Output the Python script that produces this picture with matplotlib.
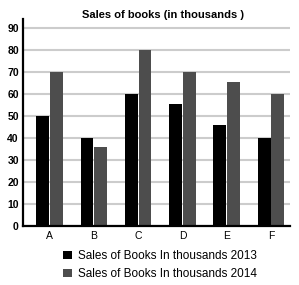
import matplotlib
matplotlib.use("Agg")
import matplotlib.pyplot as plt
import numpy as np

plt.rcParams['font.family'] = ['Liberation Sans', 'DejaVu Sans']

categories = ["A", "B", "C", "D", "E", "F"]
sales_2013 = [50, 40, 60, 55.5, 46, 40]
sales_2014 = [70, 36, 80, 70, 65.5, 60]
yticks = [0, 10, 20, 30, 40, 50, 60, 70, 80, 90]

fig = plt.figure(figsize=(2.99, 2.85), dpi=100)
ax = fig.add_axes([0.077, 0.208, 0.893, 0.725])

x = np.arange(len(categories))
w = 0.29
b1 = ax.bar(x - 0.155, sales_2013, w, color="#000000", zorder=3,
            label="Sales of Books In thousands 2013")
b2 = ax.bar(x + 0.155, sales_2014, w, color="#4d4d4d", zorder=3,
            label="Sales of Books In thousands 2014")

ax.set_xlim(-0.6, 5.43)
ax.set_ylim(0, 94)
ax.set_yticks(yticks)
ax.set_xticks(x)
ax.set_xticklabels(categories)
ax.grid(axis="y", color="#cccccc", linewidth=1.5, zorder=0)
ax.tick_params(length=0, labelsize=7.5, pad=3)
for lbl in ax.get_yticklabels():
    lbl.set_fontweight("bold")
ax.tick_params(axis="x", labelsize=7.5, pad=4)

for s in ["top", "right"]:
    ax.spines[s].set_visible(False)
for s in ["left", "bottom"]:
    ax.spines[s].set_linewidth(1.6)
    ax.spines[s].set_zorder(4)

fig.text(0.545, 0.947, "Sales of books (in thousands )", ha="center",
         va="center", fontsize=8, fontweight="bold")

fig.legend(handles=[b1, b2], loc="upper left", bbox_to_anchor=(0.21, 0.122),
           frameon=False, fontsize=8.5, handlelength=0.75, handleheight=0.75,
           handletextpad=0.5, labelspacing=0.5, borderpad=0, borderaxespad=0)

fig.savefig("out.png", dpi=100)
